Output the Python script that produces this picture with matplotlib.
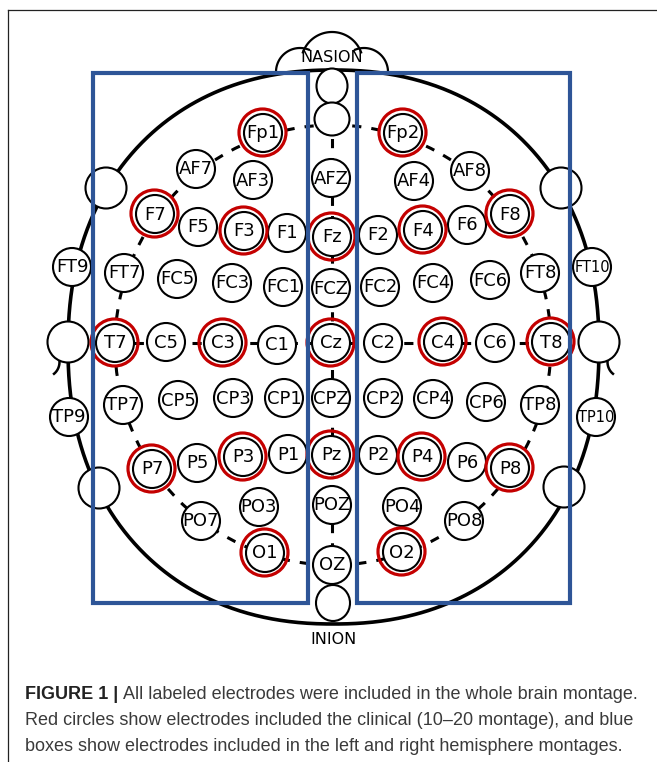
import numpy as np
import matplotlib
matplotlib.use("Agg")
import matplotlib.pyplot as plt
from matplotlib.patches import Circle, Ellipse, Rectangle

# ---------------- data ----------------
labels = ["Fp1", "Fp2", "AF7", "AF3", "AFZ", "AF4", "AF8",
          "F7", "F5", "F3", "F1", "Fz", "F2", "F4", "F6", "F8",
          "FT9", "FT7", "FC5", "FC3", "FC1", "FCZ", "FC2", "FC4", "FC6", "FT8", "FT10",
          "T7", "C5", "C3", "C1", "Cz", "C2", "C4", "C6", "T8",
          "TP9", "TP7", "CP5", "CP3", "CP1", "CPZ", "CP2", "CP4", "CP6", "TP8", "TP10",
          "P7", "P5", "P3", "P1", "Pz", "P2", "P4", "P6", "P8",
          "PO7", "PO3", "POZ", "PO4", "PO8",
          "O1", "OZ", "O2"]
elec_x = [263, 403, 196, 253, 331, 414, 470,
          155, 198, 244, 287, 332, 378, 423, 467, 510,
          72, 124, 177, 232, 283, 331, 380, 433, 490, 540, 592,
          115, 166, 223, 277, 331, 383, 443, 495, 551,
          69, 123, 178, 233, 284, 331, 383, 433, 486, 540, 596,
          152, 197, 243, 288, 331, 378, 422, 467, 510,
          201, 259, 332, 402, 464,
          265, 332, 402]
elec_y = [133, 133, 169, 180, 178, 181, 171,
          214, 227, 231, 233, 237, 235, 230, 225, 214,
          267, 273, 279, 283, 287, 288, 287, 283, 280, 273, 267,
          343, 342, 343, 345, 343, 343, 342, 343, 342,
          417, 405, 400, 398, 398, 398, 398, 399, 402, 405, 417,
          469, 463, 457, 454, 455, 455, 457, 462, 468,
          521, 507, 505, 507, 521,
          553, 565, 552]
clinical = ["Fp1", "Fp2", "F7", "F3", "Fz", "F4", "F8", "T7", "C3", "Cz",
            "C4", "T8", "P7", "P3", "Pz", "P4", "P8", "O1", "O2"]

# unlabeled positions on the head outline and the midline
perimeter_x = [106, 68, 99, 561, 599, 564]
perimeter_y = [188, 342, 488, 188, 342, 487]

caption_bold = "FIGURE 1 | "
caption_lines = ["All labeled electrodes were included in the whole brain montage.",
                 "Red circles show electrodes included the clinical (10\u201320 montage), and blue",
                 "boxes show electrodes included in the left and right hemisphere montages."]

# ---------------- figure ----------------
W, H = 657, 762
fig = plt.figure(figsize=(W / 100, H / 100), dpi=100)
fig.patch.set_facecolor("white")
ax = fig.add_axes([0, 0, 1, 1])
ax.set_xlim(0, W)
ax.set_ylim(H, 0)
ax.axis("off")

BLUE = "#2E5597"
RED = "#C40000"

# frame (left and top lines)
ax.plot([7.5, 7.5], [H, 10], color="#222222", lw=0.9, zorder=1)
ax.plot([7.5, W], [10, 10], color="#222222", lw=0.9, zorder=1)

# head outline (superellipse)
t = np.linspace(0, 2 * np.pi, 1441)
n = 2.2
cx, cy, a, b = 333.5, 347, 265.5, 277
c, s = np.cos(t), np.sin(t)
hx = cx + a * np.sign(c) * np.abs(c) ** (2 / n)
hy = cy + b * np.sign(s) * np.abs(s) ** (2 / n)
ax.plot(hx, hy, color="black", lw=2.6, zorder=1, solid_capstyle="round")

# small ear arcs
for sgn in (-1, 1):
    tt = np.linspace(-0.5, 0.5, 30)
    ex = 333.5 + sgn * (282 - 8 * np.cos(tt * 2.5))
    ey = 362 + 14 * np.sin(tt * 2)
    ax.plot(ex, ey, color="black", lw=1.8, zorder=1)

# nasion bumps
def arc(cx_, cy_, r, t0, t1, **kw):
    tt = np.radians(np.linspace(t0, t1, 80))
    ax.plot(cx_ + r * np.cos(tt), cy_ - r * np.sin(tt), **kw)

kw = dict(color="black", lw=1.6, zorder=1)
arc(300, 72, 24, 68, 180, **kw)
arc(332, 63, 31, 20, 160, **kw)
arc(364, 72, 24, 0, 112, **kw)
ax.text(332, 57, "NASION", ha="center", va="center", fontsize=11.5,
        family="DejaVu Sans", color="black", zorder=5)
ax.text(333, 639, "INION", ha="center", va="center", fontsize=11.5,
        family="DejaVu Sans", color="black", zorder=5)

# inner dashed ring, midline and coronal lines
dash = (0, (3, 3.3))
ring = Ellipse((333, 345), 436, 440, fill=False, ec="black", lw=2.2,
               ls=dash, zorder=1)
ax.add_patch(ring)
ax.plot([332, 332], [100, 603], color="black", lw=2.2, ls=dash, zorder=1)
ax.plot([115, 551], [343, 343], color="black", lw=2.2, ls=dash, zorder=1)

# unlabeled circles
for px, py in zip(perimeter_x, perimeter_y):
    ax.add_patch(Circle((px, py), 20.5, fc="white", ec="black", lw=1.5, zorder=3))
ax.add_patch(Ellipse((332, 86), 31, 35, fc="white", ec="black", lw=1.5, zorder=3))
ax.add_patch(Ellipse((332, 119), 35, 33, fc="white", ec="black", lw=1.5, zorder=3))
ax.add_patch(Ellipse((333, 603), 34, 36, fc="white", ec="black", lw=1.5, zorder=3))

# electrodes
for lab, x, y in zip(labels, elec_x, elec_y):
    ax.add_patch(Circle((x, y), 19, fc="white", ec="black", lw=1.5, zorder=3))
    if lab in clinical:
        ax.add_patch(Circle((x - 0.5, y - 0.5), 23.5, fill=False, ec=RED,
                            lw=2.3, zorder=4))
    fs = 10.5 if len(lab) > 3 else 13
    ax.text(x, y + 0.5, lab, ha="center", va="center", fontsize=fs,
            family="DejaVu Sans", color="black", zorder=5)

# hemisphere boxes
ax.add_patch(Rectangle((93, 73), 215, 530, fill=False, ec=BLUE, lw=3, zorder=6))
ax.add_patch(Rectangle((357, 73), 213, 530, fill=False, ec=BLUE, lw=3, zorder=6))

# caption (fit first line width)
fig.canvas.draw()
r = fig.canvas.get_renderer()
x0 = 25
target = 638 - x0
fs = 11.0
cap_color = "#3a3a3a"
fam = ["Liberation Sans", "DejaVu Sans"]
for _ in range(3):
    tb = ax.text(x0, 699, caption_bold, fontsize=fs, weight="bold", family=fam,
                 color="#222222", va="baseline", ha="left")
    wb = tb.get_window_extent(r).width
    tr = ax.text(x0 + wb, 699, caption_lines[0], fontsize=fs, family=fam,
                 color=cap_color, va="baseline", ha="left")
    wr = tr.get_window_extent(r).width
    total = wb + wr
    tb.remove()
    tr.remove()
    fs = fs * target / total

tb = ax.text(x0, 699, caption_bold, fontsize=fs, weight="bold", family=fam,
             color="#222222", va="baseline", ha="left")
wb = tb.get_window_extent(r).width
ax.text(x0 + wb, 699, caption_lines[0], fontsize=fs, family=fam,
        color=cap_color, va="baseline", ha="left")
ax.text(x0, 725, caption_lines[1], fontsize=fs, family=fam,
        color=cap_color, va="baseline", ha="left")
ax.text(x0, 751, caption_lines[2], fontsize=fs, family=fam,
        color=cap_color, va="baseline", ha="left")

fig.savefig("out.png", dpi=100, facecolor="white")
